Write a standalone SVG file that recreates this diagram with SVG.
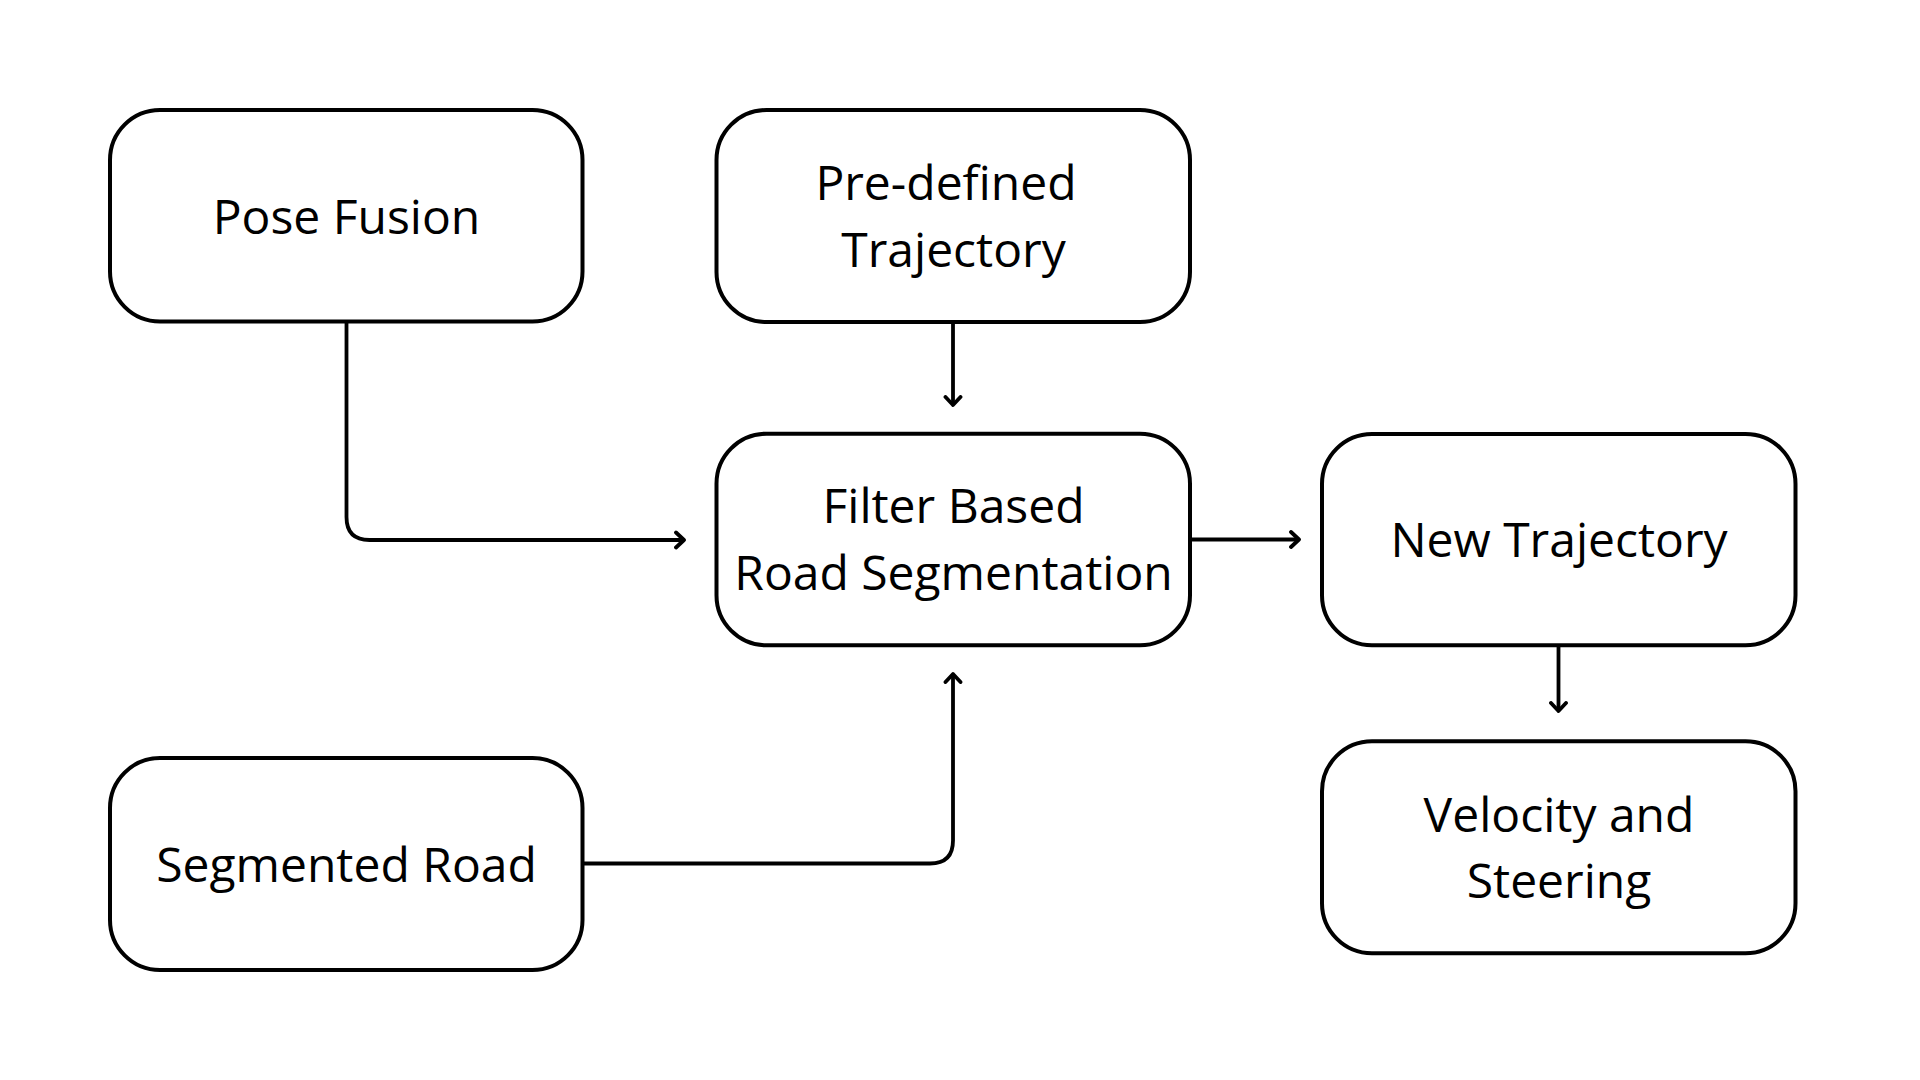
<svg xmlns="http://www.w3.org/2000/svg" width="1920" height="1080" viewBox="0 0 1920 1080">
  <style>
    .box { fill: #ffffff; stroke: #000000; stroke-width: 4; }
    .label { font-family: "Open Sans", "Noto Sans", "Liberation Sans", sans-serif; font-size: 48px; fill: #000000; text-anchor: middle; }
    .conn { fill: none; stroke: #000000; stroke-width: 3.8; stroke-linejoin: round; }
  </style>
  <defs>
    <marker id="arrow" viewBox="-10 -10 20 20" markerWidth="20" markerHeight="20" refX="0" refY="0" orient="auto" markerUnits="userSpaceOnUse">
      <path d="M -8 -7.5 L 0 0 L -8 7.5" fill="none" stroke="#000000" stroke-width="3.8" stroke-linecap="round" stroke-linejoin="round"/>
    </marker>
  </defs>
  <rect width="1920" height="1080" fill="#ffffff"/>

  <g id="connectors">
    <path class="conn" d="M 346.5 322 V 517 Q 346.5 540 369.5 540 H 684" marker-end="url(#arrow)"/>
    <path class="conn" d="M 953 323 V 405" marker-end="url(#arrow)"/>
    <path class="conn" d="M 1191 539.5 H 1299" marker-end="url(#arrow)"/>
    <path class="conn" d="M 1558.5 646 V 711" marker-end="url(#arrow)"/>
    <path class="conn" d="M 583 863.5 H 930 Q 953 863.5 953 840.5 V 674" marker-end="url(#arrow)"/>
  </g>

  <g id="pose-fusion">
    <rect class="box" x="110" y="110" width="472.5" height="211.5" rx="50" ry="50"/>
    <text class="label" x="346.5" y="234">Pose Fusion</text>
  </g>

  <g id="pre-defined-trajectory">
    <rect class="box" x="716.5" y="110" width="473.5" height="212" rx="50" ry="50"/>
    <text class="label" x="946" y="200">Pre-defined</text>
    <text class="label" x="953.5" y="266.5">Trajectory</text>
  </g>

  <g id="filter-based-road-segmentation">
    <rect class="box" x="716.5" y="433.7" width="473.5" height="211.6" rx="50" ry="50"/>
    <text class="label" x="953.5" y="523">Filter Based</text>
    <text class="label" x="953.5" y="590">Road Segmentation</text>
  </g>

  <g id="new-trajectory">
    <rect class="box" x="1322" y="434" width="473.5" height="211.3" rx="50" ry="50"/>
    <text class="label" x="1559" y="557">New Trajectory</text>
  </g>

  <g id="velocity-and-steering">
    <rect class="box" x="1322" y="741.3" width="473.5" height="212" rx="50" ry="50"/>
    <text class="label" x="1559" y="832">Velocity and</text>
    <text class="label" x="1559" y="897.5">Steering</text>
  </g>

  <g id="segmented-road">
    <rect class="box" x="110" y="758" width="472.5" height="212" rx="50" ry="50"/>
    <text class="label" x="346.5" y="882">Segmented Road</text>
  </g>
</svg>
